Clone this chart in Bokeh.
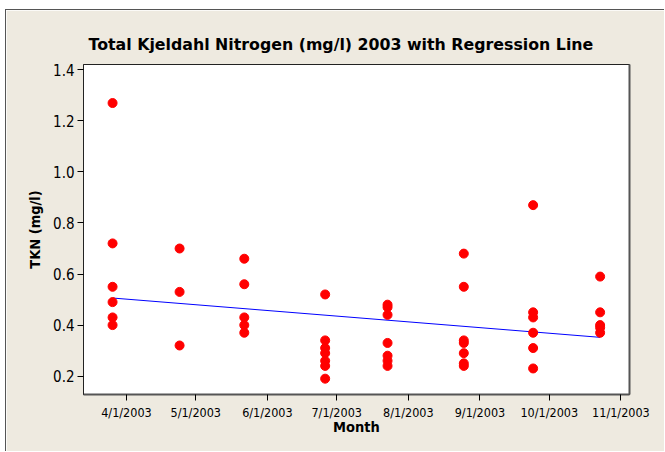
import pandas as pd
from bokeh.plotting import figure
from bokeh.models import Range1d, FixedTicker, LinearAxis, NumeralTickFormatter
from bokeh.embed import file_html
from bokeh.resources import INLINE

# ---- data ----
sample_dates = ["2003-03-26", "2003-04-24", "2003-05-22", "2003-06-26",
                "2003-07-23", "2003-08-25", "2003-09-24", "2003-10-23"]
tkn_mar = [1.27, 0.72, 0.55, 0.49, 0.43, 0.40]
tkn_apr = [0.70, 0.53, 0.32]
tkn_may = [0.66, 0.56, 0.43, 0.40, 0.37]
tkn_jun = [0.52, 0.34, 0.31, 0.29, 0.26, 0.24, 0.19]
tkn_jul = [0.48, 0.47, 0.44, 0.33, 0.28, 0.26, 0.24]
tkn_aug = [0.68, 0.55, 0.34, 0.33, 0.29, 0.25, 0.24]
tkn_sep = [0.87, 0.45, 0.43, 0.37, 0.31, 0.23]
tkn_oct = [0.59, 0.45, 0.40, 0.39, 0.37]
groups = [tkn_mar, tkn_apr, tkn_may, tkn_jun, tkn_jul, tkn_aug, tkn_sep, tkn_oct]

reg_dates = ["2003-03-26", "2003-10-23"]
reg_values = [0.506, 0.352]

tick_dates = ["2003-04-01", "2003-05-01", "2003-06-01", "2003-07-01",
              "2003-08-01", "2003-09-01", "2003-10-01", "2003-11-01"]
tick_labels = ["4/1/2003", "5/1/2003", "6/1/2003", "7/1/2003",
               "8/1/2003", "9/1/2003", "10/1/2003", "11/1/2003"]
y_ticks = [0.2, 0.4, 0.6, 0.8, 1.0, 1.2, 1.4]

xs, ys = [], []
for d, vals in zip(sample_dates, groups):
    for v in vals:
        xs.append(pd.Timestamp(d))
        ys.append(v)

def ms(d):
    return pd.Timestamp(d).value // 10**6

BG = "#EEEAE0"
p = figure(width=659, height=442, x_axis_type="datetime",
           output_backend="svg", toolbar_location=None,
           x_range=Range1d(pd.Timestamp("2003-03-13 10:00"), pd.Timestamp("2003-11-04 17:00")),
           y_range=Range1d(0.128, 1.421),
           min_border_left=77, min_border_right=36, min_border_top=54, min_border_bottom=58,
           background_fill_color="white", border_fill_color=BG,
           styles={"position": "absolute", "left": "5px", "top": "9px",
                   "border-left": "1px solid #555", "border-top": "1px solid #555"})

p.grid.visible = False
p.outline_line_color = "#222222"
p.outline_line_width = 1

p.title.text = "Total Kjeldahl Nitrogen (mg/l) 2003 with Regression Line"
p.title.text_font = "DejaVu Sans"
p.title.text_font_size = "15.8px"
p.title.text_font_style = "bold"
p.title.text_color = "black"
p.title.align = "left"
p.title.offset = 5
p.title.standoff = 22

xa = p.xaxis[0]
xa.ticker = FixedTicker(ticks=[ms(d) for d in tick_dates])
xa.major_label_overrides = {ms(d): lab for d, lab in zip(tick_dates, tick_labels)}
xa.axis_label = "Month"
xa.minor_tick_line_color = None
xa.major_tick_in = 0
xa.major_tick_out = 6
xa.major_tick_line_color = "black"
xa.axis_line_color = "#555555"
xa.axis_line_width = 2
xa.major_label_text_font = "DejaVu Sans Condensed"
xa.major_label_text_font_size = "12.5px"
xa.major_label_text_color = "black"
xa.major_label_standoff = 4
xa.axis_label_text_font = "DejaVu Sans Condensed"
xa.axis_label_text_font_size = "14.5px"
xa.axis_label_text_font_style = "bold"
xa.axis_label_text_color = "black"
xa.axis_label_standoff = -4

ya = p.yaxis[0]
ya.ticker = FixedTicker(ticks=y_ticks)
ya.formatter = NumeralTickFormatter(format="0.0")
ya.axis_label = "TKN (mg/l)"
ya.minor_tick_line_color = None
ya.major_tick_in = 0
ya.major_tick_out = 6
ya.major_tick_line_color = "black"
ya.axis_line_color = "#222222"
ya.major_label_text_font = "DejaVu Sans Condensed"
ya.major_label_text_font_size = "15px"
ya.major_label_text_color = "black"
ya.major_label_standoff = 3
ya.axis_label_text_font = "DejaVu Sans Condensed"
ya.axis_label_text_font_size = "14.5px"
ya.axis_label_text_font_style = "bold"
ya.axis_label_text_color = "black"
ya.axis_label_standoff = 7

ra = LinearAxis(ticker=FixedTicker(ticks=[]), major_label_text_font_size="0px",
                axis_line_color="#555555", axis_line_width=2,
                major_tick_line_color=None, minor_tick_line_color=None)
p.add_layout(ra, "right")

p.line([pd.Timestamp(d) for d in reg_dates], reg_values, line_color="#0000FF", line_width=1)
p.scatter(xs, ys, size=9, fill_color="#FF0000", line_color="#FF0000")

open("out.html", "w").write(file_html(p, INLINE))
